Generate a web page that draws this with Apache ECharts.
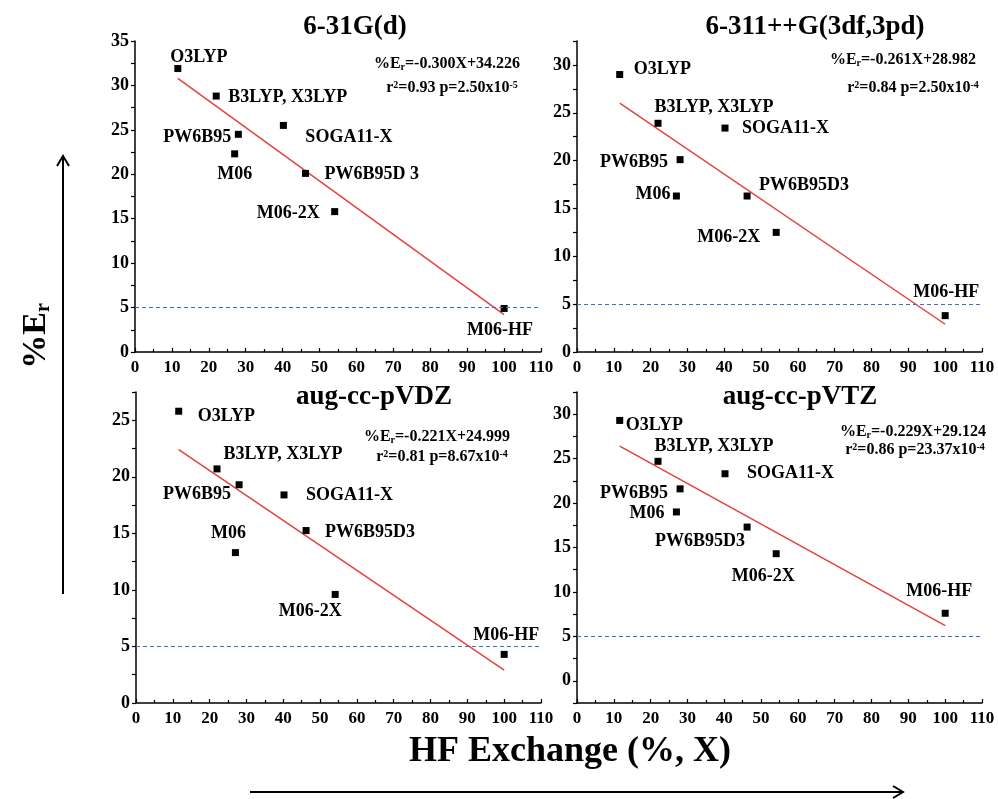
<!DOCTYPE html>
<html>
<head>
<meta charset="utf-8">
<script src="https://cdn.jsdelivr.net/npm/echarts@6/dist/echarts.min.js"></script>
<style>
  html, body { margin: 0; padding: 0; background: #fff; }
  #main { width: 998px; height: 799px; }
</style>
</head>
<body>
<div id="main"></div>
<script>
// 泛函名称与HF交换比例
const methods = ['O3LYP', 'B3LYP, X3LYP', 'PW6B95', 'M06', 'SOGA11-X', 'PW6B95D3', 'M06-2X', 'M06-HF'];
const methods631 = ['O3LYP', 'B3LYP, X3LYP', 'PW6B95', 'M06', 'SOGA11-X', 'PW6B95D 3', 'M06-2X', 'M06-HF'];
const hfX = [11.6, 22, 28, 27, 40.2, 46.2, 54.1, 100];

// 各基组下的 %Er
const er631 = [31.9, 28.8, 24.5, 22.3, 25.5, 20.1, 15.8, 4.9];
const er6311 = [29.0, 23.9, 20.1, 16.3, 23.4, 16.3, 12.5, 3.8];
const erVDZ = [25.8, 20.7, 19.3, 13.3, 18.4, 15.25, 9.6, 4.3];
const erVTZ = [29.3, 24.7, 21.6, 19.0, 23.3, 17.3, 14.3, 7.6];

// 拟合直线端点
const fitX = [11.6, 100];
const fit631 = [30.8, 4.2];
const fit6311 = [26.0, 2.9];
const fitVDZ = [22.4, 2.9];
const fitVTZ = [26.4, 6.2];

// 标题与回归方程
const basisNames = ['6-31G(d)', '6-311++G(3df,3pd)', 'aug-cc-pVDZ', 'aug-cc-pVTZ'];
const eqRhs = ['=-0.300X+34.226', '=-0.261X+28.982', '=-0.221X+24.999', '=-0.229X+29.124'];
const r2Vals = ['0.93', '0.84', '0.81', '0.86'];
const pMant = ['2.50x10', '2.50x10', '8.67x10', '23.37x10'];
const pExp = ['-5', '-4', '-4', '-4'];

const xTicks = { min: 0, max: 110, interval: 10 };
const yRanges = [[0, 35], [0, 32.5], [0, 27.5], [-2.5, 32.5]];
const refLine = 5;

const FONT = "'Liberation Serif', 'Times New Roman', serif";

// 布局
const grids = [
  { left: 135, top: 41, width: 406, height: 311 },
  { left: 577, top: 41, width: 405, height: 311 },
  { left: 136, top: 392, width: 405, height: 311 },
  { left: 577, top: 392, width: 405, height: 311 },
];
const titlePos = [[350, 9], [810, 9], [369, 379], [795, 379]];
const eqPos = [[[447, 64], [452, 88]], [[903, 60], [913, 88]], [[437, 437], [442, 457]], [[913, 432], [915, 450]]];

// 点标签位置 [align, dx, dy]
const labelLayout = [
  [['center', 21, -11], ['left', 12, 1], ['right', -7, 3], ['center', 0, 20], ['left', 22, 12], ['left', 19, 1], ['right', -15, 2], ['center', -4, 22]],
  [['left', 14, -5], ['center', 56, -16], ['right', -12, 3], ['right', -6, -2], ['left', 17, 0], ['left', 12, -11], ['right', -16, 5], ['center', 1, -23]],
  [['left', 19, 5], ['center', 66, -15], ['right', -8, 10], ['center', -7, -19], ['left', 22, 0], ['left', 19, 2], ['center', -25, 17], ['center', 2, -19]],
  [['left', 6, 5], ['center', 56, -15], ['right', -12, 4], ['right', -12, 1], ['left', 22, 0], ['center', -47, 14], ['center', -13, 23], ['center', -6, -22]],
];

const panels = [
  { names: methods631, er: er631, fit: fit631 },
  { names: methods, er: er6311, fit: fit6311 },
  { names: methods, er: erVDZ, fit: fitVDZ },
  { names: methods, er: erVTZ, fit: fitVTZ },
];

const chart = echarts.init(document.getElementById('main'));

const tickLabel = { color: '#000', fontFamily: FONT, fontWeight: 'bold' };

const xAxis = grids.map((g, i) => ({
  gridIndex: i,
  type: 'value',
  min: xTicks.min,
  max: xTicks.max,
  interval: xTicks.interval,
  axisLine: { onZero: false, lineStyle: { color: '#000', width: 1.5 } },
  axisTick: { inside: true, length: 4, lineStyle: { color: '#000', width: 1.2 } },
  minorTick: { show: true, splitNumber: 2, length: 3, lineStyle: { color: '#000', width: 1.2 } },
  axisLabel: { ...tickLabel, fontSize: 17, margin: 7 },
  splitLine: { show: false },
}));

const yAxis = yRanges.map((r, i) => ({
  gridIndex: i,
  type: 'value',
  min: r[0],
  max: r[1],
  interval: 2.5,
  axisLine: { show: true, onZero: false, lineStyle: { color: '#000', width: 1.5 } },
  axisTick: { show: true, length: 4, lineStyle: { color: '#000', width: 1.2 } },
  axisLabel: {
    ...tickLabel,
    fontSize: 18,
    margin: 6,
    formatter: (v) => (Math.abs(v % 5) < 1e-6 && v >= 0 ? String(v) : ''),
  },
  splitLine: { show: false },
}));

const series = [];
panels.forEach((p, i) => {
  series.push({
    type: 'line',
    xAxisIndex: i,
    yAxisIndex: i,
    data: fitX.map((x, k) => [x, p.fit[k]]),
    symbol: 'none',
    silent: true,
    lineStyle: { color: '#e8403a', width: 1.5 },
    markLine: {
      silent: true,
      symbol: 'none',
      label: { show: false },
      lineStyle: { color: '#3d6fc8', type: [4, 3], width: 1.2, opacity: 1 },
      data: [{ yAxis: refLine }],
    },
    z: 2,
  });
  series.push({
    type: 'scatter',
    xAxisIndex: i,
    yAxisIndex: i,
    symbol: 'rect',
    symbolSize: 7,
    itemStyle: { color: '#000', opacity: 1 },
    data: hfX.map((x, k) => {
      const [align, dx, dy] = labelLayout[i][k];
      return {
        value: [x, p.er[k]],
        name: p.names[k],
        label: {
          show: true,
          position: 'inside',
          align,
          verticalAlign: 'middle',
          offset: [dx, dy],
          formatter: '{b}',
          color: '#000',
          textBorderWidth: 0,
          opacity: 1,
          fontFamily: FONT,
          fontWeight: 'bold',
          fontSize: 18,
        },
      };
    }),
    z: 3,
  });
});

const eqRich = {
  a: { fontFamily: FONT, fontWeight: 'bold', fontSize: 16, color: '#000', lineHeight: 22, verticalAlign: 'middle' },
  sub: { fontFamily: FONT, fontWeight: 'bold', fontSize: 10, color: '#000', lineHeight: 22, verticalAlign: 'bottom', padding: [0, 0, 3, 0] },
  sup: { fontFamily: FONT, fontWeight: 'bold', fontSize: 10, color: '#000', lineHeight: 22, verticalAlign: 'top', padding: [3, 0, 0, 0] },
};

const graphic = [];
panels.forEach((p, i) => {
  const [l1, l2] = eqPos[i];
  graphic.push({
    type: 'text', x: l1[0], y: l1[1], silent: true,
    style: { text: '{a|%E}{sub|r}{a|' + eqRhs[i] + '}', rich: eqRich, align: 'center', verticalAlign: 'middle' },
  });
  graphic.push({
    type: 'text', x: l2[0], y: l2[1], silent: true,
    style: {
      text: '{a|r}{sup|2}{a|=' + r2Vals[i] + ' p=' + pMant[i] + '}{sup|' + pExp[i] + '}',
      rich: eqRich, align: 'center', verticalAlign: 'middle',
    },
  });
});

// 纵轴标题与箭头
graphic.push({
  type: 'text', x: 36, y: 336, rotation: Math.PI / 2, silent: true,
  style: {
    text: '{m|%E}{s|r}',
    align: 'center', verticalAlign: 'middle',
    rich: {
      m: { fontFamily: FONT, fontWeight: 'bold', fontSize: 34, color: '#000', lineHeight: 40, verticalAlign: 'middle' },
      s: { fontFamily: FONT, fontWeight: 'bold', fontSize: 20, color: '#000', lineHeight: 40, verticalAlign: 'bottom', padding: [0, 0, 2, 0] },
    },
  },
});
graphic.push({ type: 'line', silent: true, shape: { x1: 63, y1: 594, x2: 63, y2: 156 }, style: { stroke: '#000', lineWidth: 2 } });
graphic.push({ type: 'polyline', silent: true, shape: { points: [[57, 166], [63, 156], [69, 166]] }, style: { stroke: '#000', lineWidth: 2, fill: null } });

// 横轴标题与箭头
graphic.push({
  type: 'text', x: 570, y: 752, silent: true,
  style: { text: 'HF Exchange (%, X)', fontFamily: FONT, fontWeight: 'bold', fontSize: 36, fill: '#000', align: 'center', verticalAlign: 'middle' },
});
graphic.push({ type: 'line', silent: true, shape: { x1: 250, y1: 792, x2: 903, y2: 792 }, style: { stroke: '#000', lineWidth: 2 } });
graphic.push({ type: 'polyline', silent: true, shape: { points: [[893, 786], [903, 792], [893, 798]] }, style: { stroke: '#000', lineWidth: 2, fill: null } });

const option = {
  backgroundColor: '#fff',
  animation: false,
  title: basisNames.map((t, i) => ({
    text: t,
    left: titlePos[i][0],
    top: titlePos[i][1],
    textAlign: 'center',
    textStyle: { fontFamily: FONT, fontWeight: 'bold', fontSize: 27, color: '#000' },
  })),
  grid: grids,
  xAxis,
  yAxis,
  series,
  graphic,
};

chart.setOption(option);
</script>
</body>
</html>
